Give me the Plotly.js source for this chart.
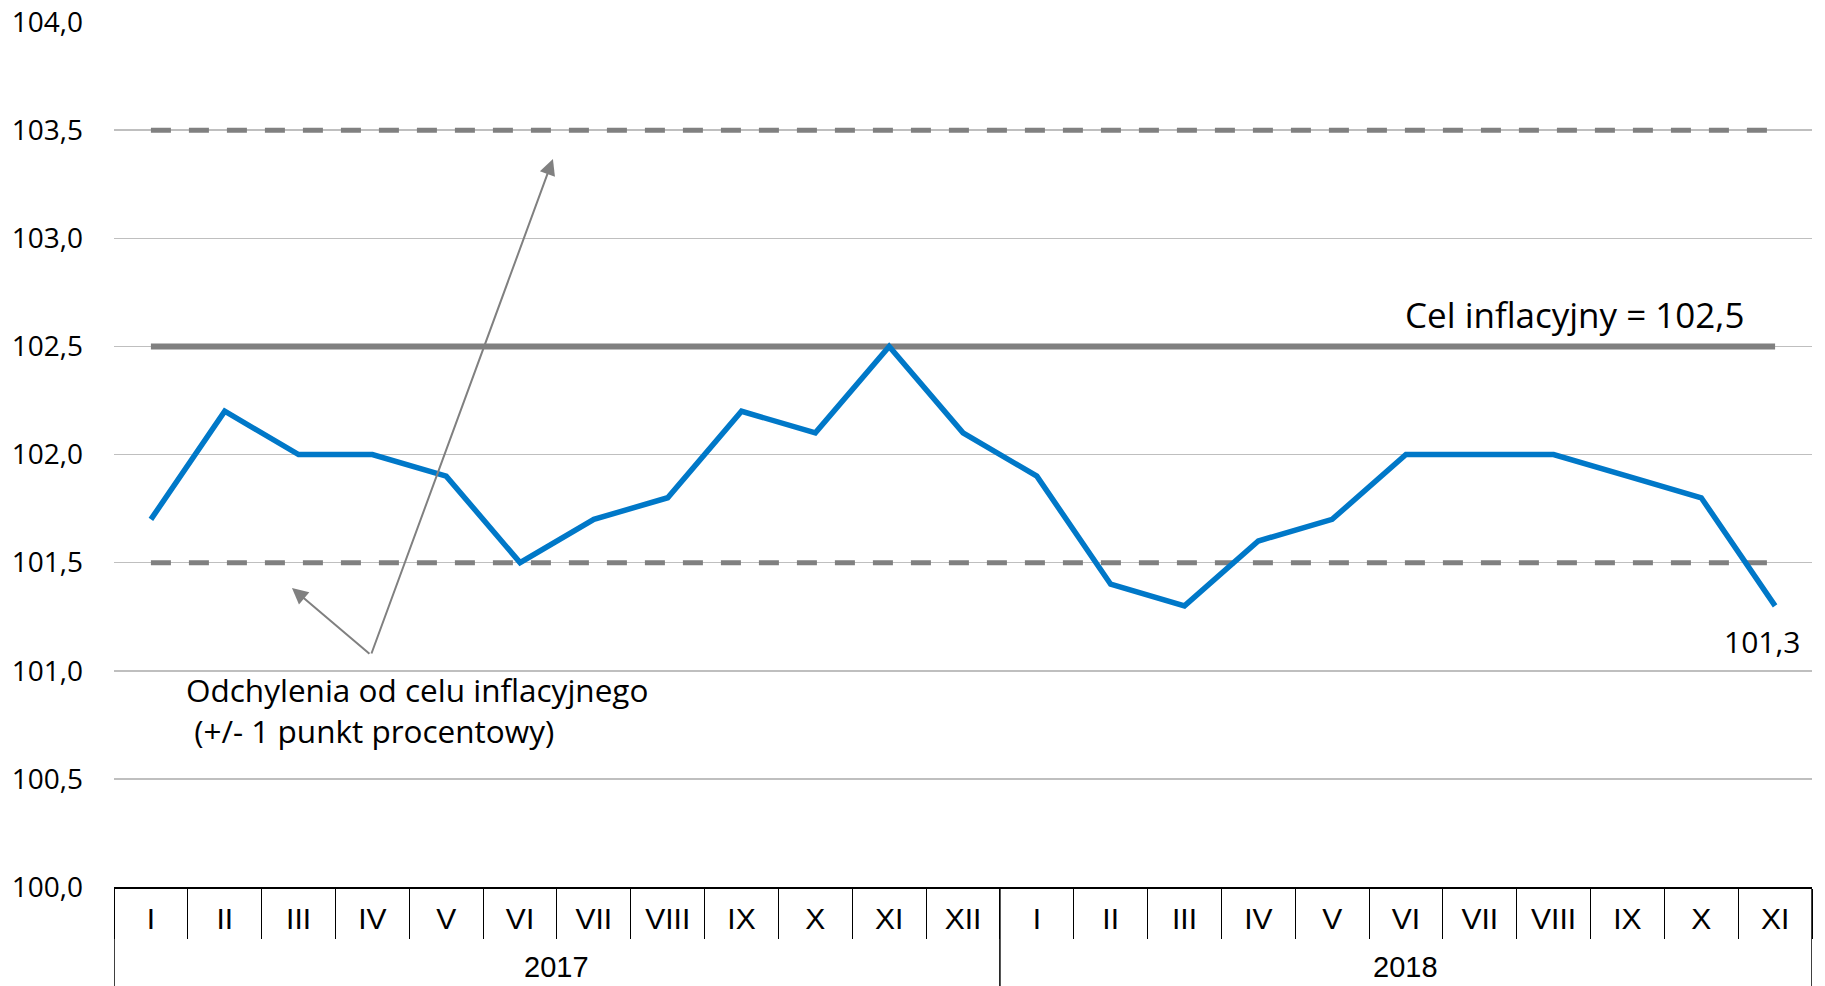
<!DOCTYPE html>
<html>
<head>
<meta charset="utf-8">
<script src="https://cdn.plot.ly/plotly-3.0.1.min.js"></script>
<style>
	html, body { margin: 0; padding: 0; background: #fff; }
	#plot1 { width: 1825px; height: 986px; }
</style>
</head>
<body>
<div id="plot1"></div>
<script>
// Months and years of the x axis
var months = ['I','II','III','IV','V','VI','VII','VIII','IX','X','XI','XII',
	'I','II','III','IV','V','VI','VII','VIII','IX','X','XI'];
var years = ['2017','2017','2017','2017','2017','2017','2017','2017','2017','2017','2017','2017',
	'2018','2018','2018','2018','2018','2018','2018','2018','2018','2018','2018'];

// CPI, same month previous year = 100
var cpi = [101.7, 102.2, 102.0, 102.0, 101.9, 101.5, 101.7, 101.8, 102.2, 102.1, 102.5, 102.1,
	101.9, 101.4, 101.3, 101.6, 101.7, 102.0, 102.0, 102.0, 101.9, 101.8, 101.3];

// Inflation target and tolerance band
var target = 102.5,
	upper = 103.5,
	lower = 101.5;

var textFont = 'Open Sans, Noto Sans, sans-serif';
var catFont = 'Liberation Sans Narrow, Arial Narrow, Liberation Sans, sans-serif';
var grey = '#808080';

// unique category keys, month shown as tick text
var keys = months.map(function(m, i) { return years[i] + ' ' + m; });

function flat(v) {
	return keys.map(function() { return v; });
}

// year groups: first and last index of each year
function yearGroups() {
	var out = [];
	years.forEach(function(y, i) {
		var g = out[out.length - 1];
		if (!g || g.year !== y) out.push({year: y, first: i, last: i});
		else g.last = i;
	});
	return out;
}

function drawPlot1() {
	var traces = [
		{x: keys, y: flat(upper), mode: 'lines', type: 'scatter',
			line: {color: grey, width: 5, dash: '20px,18px'}},
		{x: keys, y: flat(lower), mode: 'lines', type: 'scatter',
			line: {color: grey, width: 5, dash: '20px,18px'}},
		{x: keys, y: flat(target), mode: 'lines', type: 'scatter',
			line: {color: grey, width: 6}},
		{x: keys, y: cpi, mode: 'lines', type: 'scatter',
			line: {color: '#0078c8', width: 5.5}}
	];

	var shapes = [], annotations = [];
	yearGroups().forEach(function(g, k) {
		if (k === 0) {
			shapes.push({type: 'line', xref: 'x', yref: 'paper', x0: g.first - 0.5, x1: g.first - 0.5,
				y0: 0, y1: -0.125, line: {color: '#000', width: 1.5}});
		}
		shapes.push({type: 'line', xref: 'x', yref: 'paper', x0: g.last + 0.5, x1: g.last + 0.5,
			y0: 0, y1: -0.125, line: {color: '#000', width: 1.5}});
		annotations.push({xref: 'x', yref: 'paper', x: (g.first + g.last) / 2, y: -0.0925,
			xanchor: 'center', yanchor: 'middle', text: g.year, showarrow: false,
			font: {family: catFont, size: 29}});
	});

	annotations.push(
		{xref: 'paper', yref: 'paper', x: 0.8604, y: 0.662, xanchor: 'center', yanchor: 'middle',
			text: 'Cel inflacyjny = 102,5', showarrow: false, font: {size: 35}},
		{xref: 'paper', yref: 'paper', x: 0.9706, y: 0.284, xanchor: 'center', yanchor: 'middle',
			text: '101,3', showarrow: false, font: {size: 30}},
		{xref: 'paper', yref: 'paper', x: 0.0412, y: 0.205, xanchor: 'left', yanchor: 'middle',
			align: 'left', showarrow: false, font: {size: 31.5},
			text: 'Odchylenia od celu inflacyjnego<br>\u00a0(+/- 1 punkt procentowy)'},
		{xref: 'paper', yref: 'paper', x: 0.2585, y: 0.8416, ax: -182, ay: 496,
			showarrow: true, arrowhead: 2, arrowsize: 1.6, arrowwidth: 2, arrowcolor: grey, text: ''},
		{xref: 'paper', yref: 'paper', x: 0.1048, y: 0.3457, ax: 79, ay: 67,
			showarrow: true, arrowhead: 2, arrowsize: 1.6, arrowwidth: 2, arrowcolor: grey, text: ''}
	);

	var layout = {
		width: 1825,
		height: 986,
		margin: {l: 114, r: 13, t: 22, b: 99},
		paper_bgcolor: '#fff',
		plot_bgcolor: '#fff',
		showlegend: false,
		hovermode: false,
		separators: ', ',
		font: {family: textFont, size: 28, color: '#000'},
		xaxis: {
			type: 'category',
			range: [-0.5, keys.length - 0.5],
			tickvals: keys,
			ticktext: months,
			showgrid: false,
			showline: true,
			linecolor: '#000',
			linewidth: 1.5,
			ticks: 'outside',
			tickson: 'boundaries',
			ticklen: 50,
			tickcolor: '#000',
			tickwidth: 1,
			ticklabelstandoff: 4,
			tickfont: {family: catFont, size: 30, color: '#000'},
			zeroline: false
		},
		yaxis: {
			range: [100, 104],
			dtick: 0.5,
			tick0: 100,
			tickformat: '.1f',
			showgrid: true,
			gridcolor: '#bfbfbf',
			gridwidth: 1.5,
			zeroline: false,
			showline: false,
			ticks: '',
			ticklabelstandoff: 30,
			tickfont: {family: textFont, size: 28, color: '#000'}
		},
		shapes: shapes,
		annotations: annotations
	};

	Plotly.newPlot('plot1', traces, layout, {staticPlot: true});
}

drawPlot1();
</script>
</body>
</html>
